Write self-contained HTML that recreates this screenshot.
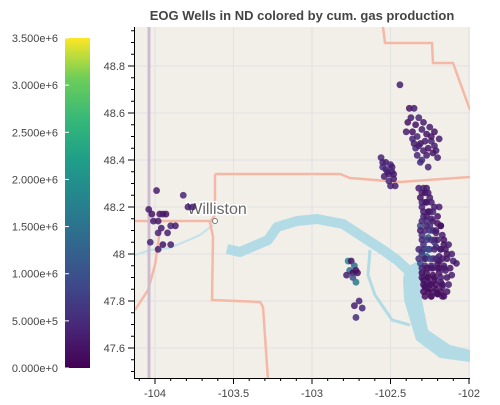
<!DOCTYPE html>
<html><head><meta charset="utf-8"><style>
body{margin:0;background:#fff;font-family:"Liberation Sans",sans-serif}
svg text{font-family:"Liberation Sans",sans-serif}
</style></head><body>
<svg width="500" height="400" xmlns="http://www.w3.org/2000/svg">
<defs>
<linearGradient id="vir" x1="0" y1="1" x2="0" y2="0">
<stop offset="0" stop-color="#440154"/><stop offset="0.13" stop-color="#482878"/><stop offset="0.25" stop-color="#3e4989"/><stop offset="0.38" stop-color="#31688e"/><stop offset="0.5" stop-color="#26828e"/><stop offset="0.63" stop-color="#1f9e89"/><stop offset="0.75" stop-color="#35b779"/><stop offset="0.88" stop-color="#6ece58"/><stop offset="1" stop-color="#fde725"/>
</linearGradient>
<clipPath id="pc"><rect x="135" y="27" width="335" height="351"/></clipPath>
</defs>
<text x="302" y="20" text-anchor="middle" font-size="13" font-weight="bold" fill="#444">EOG Wells in ND colored by cum. gas production</text>
<g clip-path="url(#pc)">
<rect x="135" y="27" width="335" height="351" fill="#f2efe9"/>
<g id="grid" stroke="#e2e2e2" stroke-width="1"></g>
<polyline points="227,249 240,252 268,240 277,227 297,221 317,219 343,224 363,237 383,250 397,260 410,272 420,282" fill="none" stroke="#b3dbe6" stroke-width="10" stroke-linejoin="round"/>
<path d="M405,268 L420,260 L428,272 L422,300 L428,330 L450,345 L470,350 L470,362 L440,358 L416,340 L404,300 L403,280 Z" fill="#b3dbe6"/>
<polyline points="370,250 368,275 375,295 392,320 410,325" fill="none" stroke="#b3dbe6" stroke-width="3"/>
<polyline points="135,255 150,250 170,248 200,235 213,225" fill="none" stroke="#c2e1e8" stroke-width="2"/>
<g fill="none" stroke="#f5b8a6" stroke-width="2.5">
<polyline points="215,174 340,174 350,178 400,182 470,177"/>
<polyline points="215,174 215,215 210,222 213,237 212,300 260,302 263,307 268,380"/>
<polyline points="135,221 213,221"/>
<polyline points="383,27 385,43 432,43 433,63 453,63 470,110"/>
<polyline points="160,230 155,265 148,290 135,310"/>
</g>
<line x1="149" y1="27" x2="149" y2="378" stroke="#cdbcd0" stroke-width="3"/>
<text x="217" y="214" text-anchor="middle" font-size="16" fill="#666" stroke="#fff" stroke-width="3" paint-order="stroke">Williston</text>
<circle cx="215" cy="221" r="2.5" fill="#fff" stroke="#777"/>
<g id="pts"></g>
</g>
<g id="axes" stroke="#000" font-size="11" fill="#444"></g>
<rect x="65" y="38" width="25" height="330" fill="url(#vir)"/>
<g id="cbar" font-size="11" fill="#444"></g>
</svg>
<script>
const lon=[-102.44,-102.38,-102.35,-102.39,-102.32,-102.29,-102.36,-102.33,-102.25,-102.22,-102.28,-102.31,-102.24,-102.21,-102.34,-102.27,-102.23,-102.3,-102.26,-102.2,
-102.37,-102.34,-102.3,-102.27,-102.4,-102.36,-102.32,-102.24,-102.22,-102.29,-102.33,-102.26,-102.19,-102.31,-102.35,
-102.56,-102.53,-102.5,-102.55,-102.52,-102.49,-102.54,-102.51,-102.48,-102.5,-102.47,-102.53,-102.51,-102.49,-102.55,-102.48,
-102.32,-102.29,-102.27,-102.31,-102.28,-102.25,-102.3,-102.26,-102.22,-102.29,-102.24,-102.2,-102.31,-102.27,-102.23,-102.18,-102.3,-102.26,-102.22,-102.17,-102.29,-102.25,-102.21,-102.16,-102.3,-102.27,-102.23,-102.19,-102.14,-102.31,-102.28,-102.24,-102.2,-102.16,-102.3,-102.27,-102.23,-102.19,-102.15,-102.29,-102.26,-102.22,-102.18,-102.28,-102.25,-102.21,-102.17,-102.27,-102.24,-102.2,-102.26,-102.22,-102.19,-102.25,-102.21,-102.28,-102.24,-102.3,-102.18,
-102.3,-102.28,-102.26,-102.3,-102.27,-102.24,-102.29,-102.25,-102.3,-102.27,-102.23,-102.2,-102.31,-102.28,-102.25,-102.21,-102.18,-102.3,-102.27,-102.24,-102.2,-102.16,-102.13,-102.32,-102.29,-102.26,-102.22,-102.18,-102.15,-102.11,-102.32,-102.28,-102.25,-102.21,-102.17,-102.14,-102.1,-102.3,-102.27,-102.23,-102.19,-102.16,-102.12,-102.08,-102.3,-102.26,-102.22,-102.18,-102.14,-102.11,-102.29,-102.25,-102.21,-102.17,-102.13,-102.29,-102.26,-102.22,-102.18,-102.14,-102.28,-102.24,-102.2,-102.16,-102.28,-102.24,-102.2,-102.17,-102.27,-102.23,-102.19,
-102.77,-102.75,-102.73,-102.76,-102.72,-102.74,-102.71,-102.78,-102.74,-102.72,-102.7,-102.73,-102.68,-102.72,
-104.04,-104.02,-103.99,-103.97,-103.95,-103.93,-104.01,-103.98,-103.9,-103.87,-103.96,-104.03,-103.92,-103.9,-103.95,-103.98,-103.82,-103.79,-103.76,-103.98];
const lat=[48.72,48.62,48.62,48.56,48.58,48.56,48.52,48.5,48.54,48.52,48.48,48.47,48.48,48.44,48.45,48.42,48.43,48.4,48.37,48.41,
48.58,48.55,48.53,48.51,48.52,48.49,48.46,48.5,48.46,48.44,48.42,48.45,48.49,48.39,48.47,
48.41,48.39,48.38,48.37,48.35,48.35,48.33,48.31,48.32,48.29,48.29,48.36,48.34,48.37,48.39,48.34,
48.28,48.28,48.28,48.24,48.22,48.24,48.2,48.18,48.2,48.16,48.15,48.16,48.12,48.12,48.1,48.12,48.08,48.07,48.06,48.08,48.04,48.02,48.03,48.04,48.0,47.99,47.98,47.99,48.0,47.96,47.95,47.95,47.96,47.95,47.92,47.92,47.91,47.92,47.93,47.89,47.88,47.89,47.88,47.86,47.85,47.85,47.86,47.9,47.87,47.94,48.02,48.05,47.97,48.12,48.09,47.98,47.94,48.01,48.02,
48.26,48.26,48.26,48.22,48.22,48.22,48.18,48.18,48.14,48.14,48.14,48.13,48.1,48.1,48.1,48.1,48.12,48.06,48.06,48.06,48.06,48.06,48.04,48.02,48.02,48.02,48.02,48.02,48.02,48.0,47.98,47.98,47.98,47.98,47.98,47.98,47.97,47.94,47.94,47.94,47.94,47.94,47.94,47.96,47.9,47.9,47.9,47.9,47.9,47.91,47.87,47.87,47.87,47.87,47.87,47.84,47.84,47.84,47.84,47.84,47.86,47.82,47.83,47.82,47.82,47.82,47.83,47.82,48.16,48.18,48.2,
47.97,47.97,47.95,47.93,47.93,47.92,47.92,47.91,47.9,47.88,47.8,47.78,47.77,47.73,
48.19,48.17,48.27,48.17,48.17,48.17,48.14,48.14,48.12,48.12,48.11,48.05,48.09,48.04,48.04,48.02,48.25,48.2,48.2,48.09];
const gas=[3e5,2e5,3e5,2e5,4e5,3e5,2e5,4e5,3e5,2e5,3e5,2e5,4e5,3e5,5e5,3e5,2e5,5e5,4e5,3e5,
3e5,2e5,3e5,2e5,3e5,4e5,3e5,2e5,3e5,3e5,4e5,2e5,3e5,5e5,3e5,
4e5,3e5,4e5,5e5,3e5,4e5,3e5,5e5,3e5,4e5,3e5,4e5,3e5,3e5,4e5,3e5,
3e5,4e5,3e5,2e5,5e5,3e5,4e5,2e5,3e5,5e5,3e5,2e5,9e5,4e5,3e5,2e5,6e5,1.1e6,4e5,3e5,5e5,8e5,3e5,2e5,7e5,1.3e6,4e5,3e5,2e5,9e5,5e5,3e5,2e5,3e5,1e5,2e5,1e5,2e5,3e5,1e5,2e5,1e5,3e5,2e5,1e5,2e5,3e5,6e5,2e5,3e5,1.0e6,7e5,2e5,5e5,3e5,1.2e6,2e5,8e5,3e5,
3e5,2e5,3e5,4e5,2e5,3e5,3e5,2e5,4e5,5e5,3e5,2e5,3e5,4e5,6e5,3e5,2e5,4e5,7e5,5e5,3e5,2e5,3e5,4e5,6e5,9e5,4e5,3e5,2e5,3e5,5e5,3e5,8e5,4e5,3e5,2e5,3e5,4e5,2e5,3e5,2e5,3e5,2e5,3e5,2e5,1e5,2e5,3e5,2e5,3e5,1e5,2e5,1e5,2e5,3e5,1e5,1e5,2e5,1e5,2e5,2e5,1e5,2e5,2e5,1e5,2e5,1e5,2e5,3e5,4e5,3e5,
1.8e6,2e5,1.4e6,1.5e6,2e5,1e5,2e5,3e5,1e6,1.6e6,4e5,3e5,4e5,5e5,
3e5,2e5,3e5,2e5,3e5,2e5,3e5,3e5,4e5,3e5,3e5,4e5,3e5,3e5,2e5,3e5,4e5,3e5,3e5,4e5];
const xTicks=[-104,-103.5,-103,-102.5,-102];
const yTicks=[47.6,47.8,48,48.2,48.4,48.6,48.8];
const cTicks=[0,5e5,1e6,1.5e6,2e6,2.5e6,3e6,3.5e6];
const cLabels=["0.000e+0","5.000e+5","1.000e+6","1.500e+6","2.000e+6","2.500e+6","3.000e+6","3.500e+6"];
const NS="http://www.w3.org/2000/svg";
const X=v=>155+(v+104)*157;
const Y=v=>254-(v-48)*235;
const C=v=>368-v/3.5e6*330;
const stops=[[68,1,84],[72,40,120],[62,73,137],[49,104,142],[38,130,142],[31,158,137],[53,183,121],[110,206,88],[253,231,37]];
function vir(t){t=Math.max(0,Math.min(1,t))*8;const i=Math.min(7,Math.floor(t)),f=t-i,a=stops[i],b=stops[i+1];return `rgb(${a.map((c,k)=>Math.round(c+(b[k]-c)*f)).join(',')})`;}
function mk(tag,at,p){const e=document.createElementNS(NS,tag);for(const k in at)e.setAttribute(k,at[k]);p.appendChild(e);return e;}
const grid=document.getElementById('grid');
xTicks.forEach(v=>{const l=mk('line',{x1:X(v),x2:X(v),y1:27,y2:378},grid);});
yTicks.forEach(v=>{const l=mk('line',{x1:135,x2:470,y1:Y(v),y2:Y(v)},grid);});
const pts=document.getElementById('pts');
lon.forEach((v,i)=>{if(lat[i]===undefined)return;const c=mk('circle',{cx:X(v),cy:Y(lat[i]),r:3.4,fill:vir(gas[i]/3.5e6),'fill-opacity':0.85},pts);

});
const ax=document.getElementById('axes');
const la=mk('line',{x1:134.5,x2:134.5,y1:27,y2:378},ax);
const lb=mk('line',{x1:134,x2:470,y1:378.5,y2:378.5},ax);
for(let v=-104.1;v<=-101.99;v+=0.1){const x=X(v);if(x>=135)mk('line',{x1:x,x2:x,y1:378,y2:381},ax);}
for(let v=47.5;v<=48.95;v+=0.05){const y=Y(v);if(y>=27&&y<=378)mk('line',{x1:131,x2:134,y1:y,y2:y},ax);}
xTicks.forEach(v=>{mk('line',{x1:X(v),x2:X(v),y1:378,y2:384},ax);const t=mk('text',{x:X(v),y:397,'text-anchor':'middle',stroke:'none'},ax);t.textContent=v;});
yTicks.forEach(v=>{mk('line',{x1:128,x2:134,y1:Y(v),y2:Y(v)},ax);const t=mk('text',{x:125,y:Y(v)+4,'text-anchor':'end',stroke:'none'},ax);t.textContent=v;});
const cb=document.getElementById('cbar');
cTicks.forEach((v,i)=>{mk('line',{x1:65,x2:69,y1:C(v),y2:C(v),stroke:'#fff'},cb);const t=mk('text',{x:58,y:C(v)+4,'text-anchor':'end'},cb);t.textContent=cLabels[i];});
</script>
</body></html>
